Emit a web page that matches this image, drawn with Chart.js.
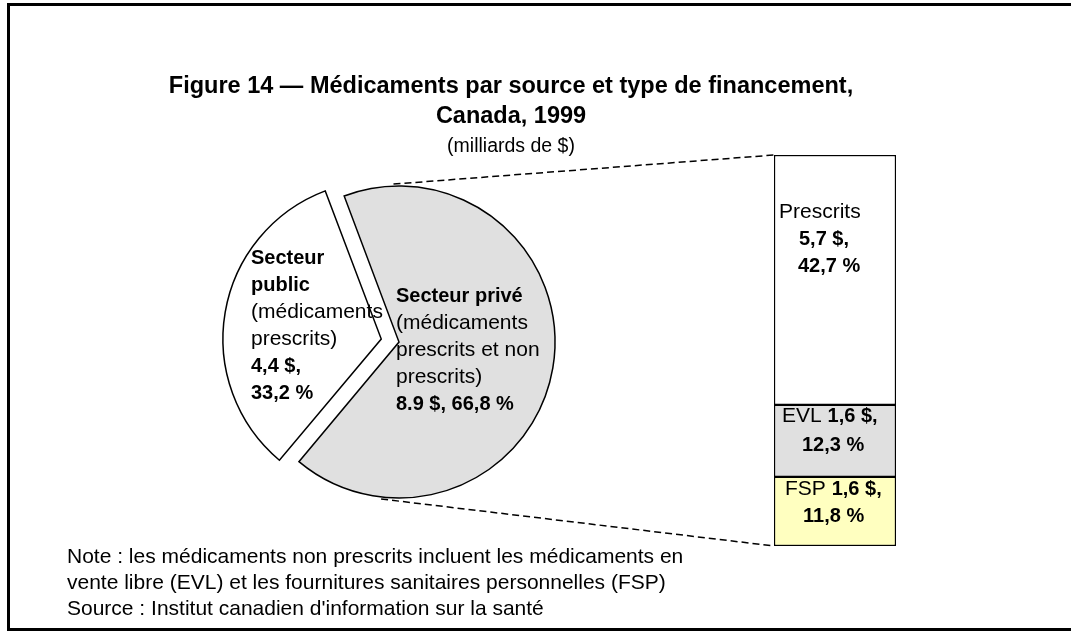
<!DOCTYPE html>
<html>
<head>
<meta charset="utf-8">
<script src="https://cdn.jsdelivr.net/npm/chart.js@4/dist/chart.umd.min.js"></script>
<style>
  body { margin: 0; background: #fff; font-family: "Liberation Sans", Arial, sans-serif; }
  #page { position: relative; width: 1071px; height: 634px; overflow: hidden; }
  #frame { position: absolute; left: 7px; top: 3px; width: 1080px; height: 622px;
           border-top: 3px solid #000; border-left: 3px solid #000; border-bottom: 3px solid #000; }
  #title { position: absolute; left: 0; top: 71px; width: 1022px; text-align: center;
           font-size: 23.5px; font-weight: bold; line-height: 29.5px; color: #000; }
  #title .sub { font-weight: normal; font-size: 19.5px; }
  #notes { position: absolute; left: 67px; top: 543px; font-size: 21px; line-height: 26px; color: #000; }
  canvas { position: absolute; }
</style>
</head>
<body>
<div id="page">
  <div id="frame"></div>
  <canvas id="links" width="1071" height="634" style="left:0;top:0"></canvas>
  <canvas id="pieChart" width="440" height="380" style="left:179px;top:152px"></canvas>
  <canvas id="barChart" width="122" height="391" style="left:774px;top:155px"></canvas>
  <div id="title">Figure 14 — Médicaments par source et type de financement,<br>Canada, 1999<br><span class="sub">(milliards de $)</span></div>
  <div id="notes">Note : les médicaments non prescrits incluent les médicaments en<br>vente libre (EVL) et les fournitures sanitaires personnelles (FSP)<br>Source : Institut canadien d'information sur la santé</div>
</div>
<script>
// pie: source of financing
const pieLabels = ['Secteur public', 'Secteur privé'];
const piePercents = [33.2, 66.8];
const pieDollars = [4.4, 8.9];
const pieColors = ['#ffffff', '#e0e0e0'];

// bar: private sector by type (bottom to top)
const barLabels = ['FSP', 'EVL', 'Prescrits'];
const barPercents = [11.8, 12.3, 42.7];
const barDollars = [1.6, 1.6, 5.7];
const barColors = ['#ffffc0', '#e0e0e0', '#ffffff'];

const FONT = '"Liberation Sans", Arial, sans-serif';
const fmt = (v, sep) => v.toFixed(1).replace('.', sep || ',');

// draws blocks of text lines made of [text, bold] pieces
const textBlocks = {
    id: 'textBlocks',
    afterDatasetsDraw(chart, args, opts) {
        const ctx = chart.ctx;
        ctx.save();
        ctx.fillStyle = '#000';
        ctx.textBaseline = 'middle';
        opts.blocks.forEach(b => {
            b.lines.forEach((line, i) => {
                let x = b.x + (b.dx ? b.dx[i] : 0);
                const y = b.y + i * b.lh;
                line.forEach(([t, bold]) => {
                    ctx.font = bold ? 'bold 20px ' + FONT : '21px ' + FONT;
                    ctx.fillText(t, x, y);
                    x += ctx.measureText(t).width;
                });
            });
        });
        ctx.restore();
    }
};

const pieChart = new Chart(document.getElementById('pieChart'), {
    type: 'pie',
    data: {
        labels: pieLabels,
        datasets: [{
            data: piePercents,
            backgroundColor: pieColors,
            borderColor: '#000',
            borderWidth: 1.5,
            borderJoinStyle: 'miter',
            offset: [72, 0]
        }]
    },
    options: {
        responsive: false,
        animation: false,
        rotation: 219.9,
        radius: 156,
        layout: { padding: 0 },
        events: [],
        plugins: {
            legend: { display: false },
            tooltip: { enabled: false },
            textBlocks: {
                blocks: [{
                    x: 72, y: 106, lh: 27,
                    lines: [
                        [['Secteur', true]],
                        [['public', true]],
                        [['(médicaments', false]],
                        [['prescrits)', false]],
                        [[fmt(pieDollars[0]) + ' $,', true]],
                        [[fmt(piePercents[0]) + ' %', true]]
                    ]
                }, {
                    x: 217, y: 144, lh: 27,
                    lines: [
                        [[pieLabels[1], true]],
                        [['(médicaments', false]],
                        [['prescrits et non', false]],
                        [['prescrits)', false]],
                        [[fmt(pieDollars[1], '.') + ' $, ' + fmt(piePercents[1]) + ' %', true]]
                    ]
                }]
            }
        }
    },
    plugins: [textBlocks]
});

const barChart = new Chart(document.getElementById('barChart'), {
    type: 'bar',
    data: {
        labels: ['Secteur privé'],
        datasets: barLabels.map((lab, i) => ({
            label: lab,
            data: [barPercents[i]],
            backgroundColor: barColors[i],
            borderColor: '#000',
            borderWidth: 1.5,
            borderSkipped: false,
            barPercentage: 1,
            categoryPercentage: 1
        }))
    },
    options: {
        responsive: false,
        animation: false,
        events: [],
        layout: { padding: 0 },
        scales: {
            x: { stacked: true, display: false },
            y: { stacked: true, display: false, min: 0, max: barPercents.reduce((a, b) => a + b, 0) }
        },
        plugins: {
            legend: { display: false },
            tooltip: { enabled: false },
            textBlocks: {
                blocks: [{
                    x: 5, y: 57, lh: 27, dx: [0, 20, 19],
                    lines: [
                        [[barLabels[2], false]],
                        [[fmt(barDollars[2]) + ' $,', true]],
                        [[fmt(barPercents[2]) + ' %', true]]
                    ]
                }, {
                    x: 8, y: 261, lh: 29, dx: [0, 20],
                    lines: [
                        [[barLabels[1] + ' ', false], [fmt(barDollars[1]) + ' $,', true]],
                        [[fmt(barPercents[1]) + ' %', true]]
                    ]
                }, {
                    x: 11, y: 334, lh: 27, dx: [0, 18],
                    lines: [
                        [[barLabels[0] + ' ', false], [fmt(barDollars[0]) + ' $,', true]],
                        [[fmt(barPercents[0]) + ' %', true]]
                    ]
                }]
            }
        }
    },
    plugins: [textBlocks]
});

// dashed connectors from the pie to the stacked bar
const pieArc = pieChart.getDatasetMeta(0).data[1];
const barTop = barChart.getDatasetMeta(2).data[0];
const barBase = barChart.getDatasetMeta(0).data[0];
const pieBox = pieChart.canvas, barBox = barChart.canvas;
const px = pieBox.offsetLeft + pieArc.x, py = pieBox.offsetTop + pieArc.y;
const r = pieArc.outerRadius + 2;
const barLeft = barBox.offsetLeft + barTop.x - barTop.width / 2;
const lctx = document.getElementById('links').getContext('2d');
lctx.strokeStyle = '#000';
lctx.lineWidth = 1.5;
lctx.setLineDash([7, 4]);
[[-92, barBox.offsetTop + barTop.y], [96.5, barBox.offsetTop + barBase.base]].forEach(([deg, yEnd]) => {
    const a = deg * Math.PI / 180;
    lctx.beginPath();
    lctx.moveTo(px + r * Math.cos(a), py + r * Math.sin(a));
    lctx.lineTo(barLeft, yEnd);
    lctx.stroke();
});
</script>
</body>
</html>
